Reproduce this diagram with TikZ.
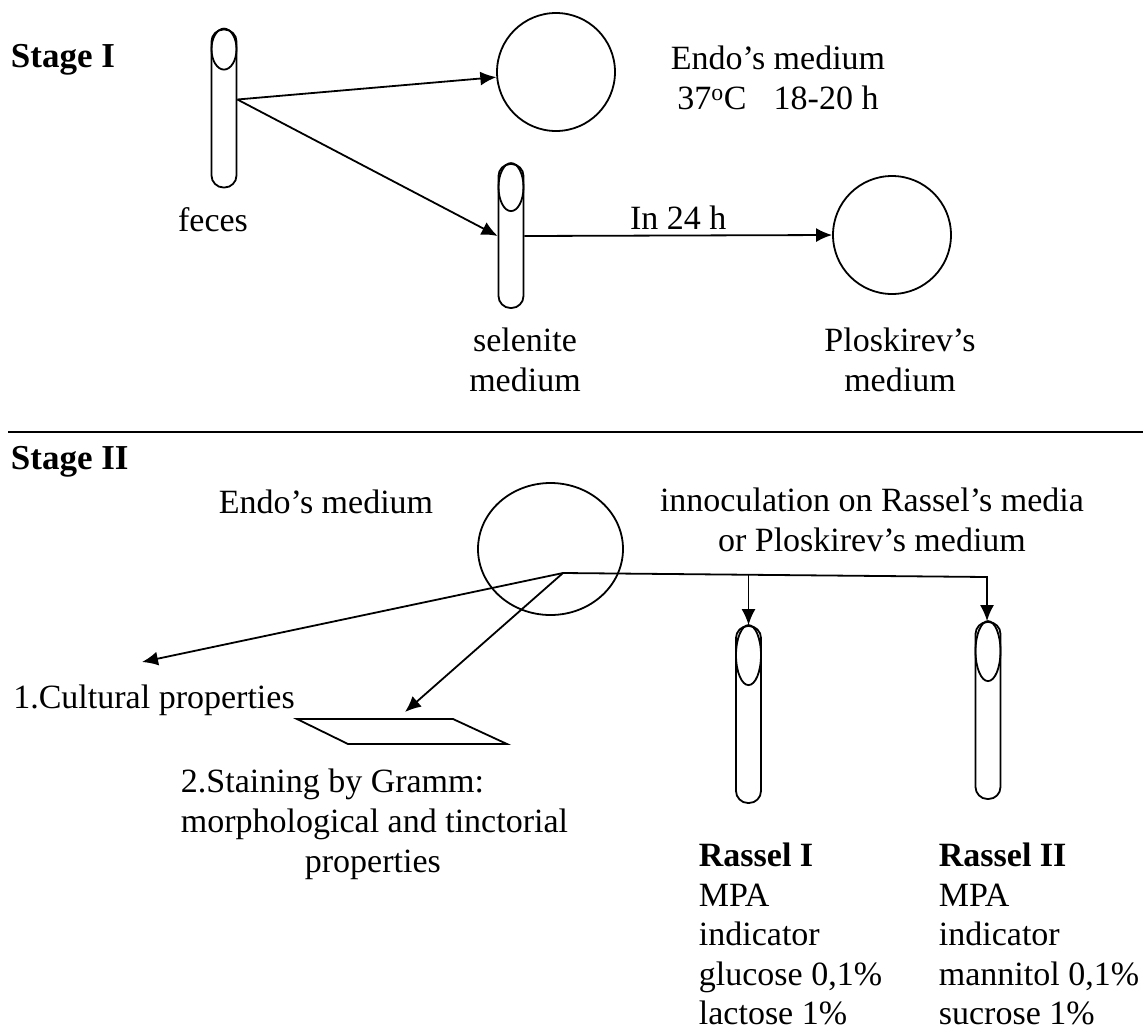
\documentclass[tikz,border=0pt]{standalone}
\usepackage{fontspec}
\setmainfont{Liberation Serif}
\usepackage{tikz}
\usetikzlibrary{arrows}
\usetikzlibrary{arrows.meta}
\usetikzlibrary{shapes.geometric}

\begin{document}
\begin{tikzpicture}[x=1pt,y=-1pt,line width=1.8pt,
  font=\fontsize{34}{40}\selectfont,
  every node/.style={inner sep=0pt},
  tube/.style={draw,rectangle,rounded corners=12pt,minimum width=25pt},
  dish/.style={draw,circle},
  arr/.style={-{Latex[length=16pt,width=14pt]}}]
\useasboundingbox (0,0) rectangle (1143,1034);
% Stage I
\node[anchor=west,font=\fontsize{35}{40}\selectfont\bfseries] (s1) at (10,60) {Stage I};
\node[tube,minimum height=158pt] (fc) at (224,108.5) {};
\node (fct) at (213,220) {feces};
\node[dish,minimum size=118pt] (ea) at (556,72) {};
\node[align=center] (eat) at (778,78) {Endo's medium\\37\textsuperscript{o}C\hspace{0.8em}18-20 h};
\node[tube,minimum height=144pt] (sl) at (511,236) {};
\node[align=center] (slt) at (525,360) {selenite\\medium};
\node[dish,minimum size=118pt] (pm) at (892,235) {};
\node[align=center] (pmt) at (900,360) {Ploskirev's\\medium};
\draw[arr] ([yshift=9pt]fc.east) -- (ea);
\draw[arr] ([yshift=9pt]fc.east) -- (sl.west);
\draw[arr] (sl.east) -- node[above=5pt] (h24) {In 24 h} (pm.west);
\draw[line width=1.4pt] (8,432) -- (1143,432);
% Stage II
\node[anchor=west,font=\fontsize{35}{40}\selectfont\bfseries] (s2) at (10,462) {Stage II};
\node (ebt) at (326,502) {Endo's medium};
\node[draw,ellipse,minimum width=145pt,minimum height=132pt] (eb) at (550.5,549) {};
\node[align=center] (inoc) at (872,520) {innoculation on Rassel's media\\or Ploskirev's medium};
\coordinate (hub) at (563,573);
\node (cult) at (154,700) {1.Cultural properties};
\coordinate (ctip) at (142,662);
\draw (297,719) -- (453,719) -- (507,744) -- (348,744) -- cycle;
\coordinate (stip) at (405,712);
\node[anchor=north west,align=left] (gram) at (180,768) {2.Staining by Gramm:\\morphological and tinctorial\\\hspace*{124pt}properties};
\draw[arr] (hub) -- (ctip);
\draw[arr] (hub) -- (stip);
\node[tube,minimum height=177pt] (ra) at (748.5,714.5) {};
\node[tube,minimum height=177pt] (rb) at (988,710.5) {};
\foreach \t/\h in {fc/20.5,sl/24,ra/30,rb/30}
  \draw ([yshift=-\h pt]\t.north) ellipse [x radius=12.5pt,y radius=\h pt];
\draw[arr] (hub) -- ++(424,4) coordinate (turn) -- (turn |- rb.north);
\draw[arr] ([yshift=-1.7pt]hub -| ra.north) -- (ra.north);
\node[anchor=north west,align=left,font=\fontsize{34}{39.5}\selectfont] (rat) at (698,842) {\textbf{Rassel I}\\MPA\\indicator\\glucose 0,1\%\\lactose 1\%};
\node[anchor=north west,align=left,font=\fontsize{34}{39.5}\selectfont] (rbt) at (938,842) {\textbf{Rassel II}\\MPA\\indicator\\mannitol 0,1\%\\sucrose 1\%};
\end{tikzpicture}
\end{document}
